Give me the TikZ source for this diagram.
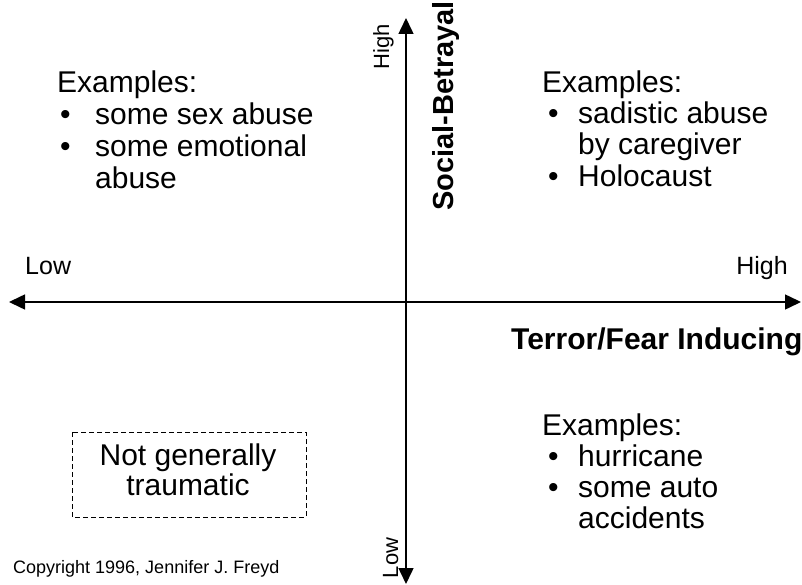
\documentclass[tikz,border=0pt]{standalone}
\usepackage{fontspec}
\setmainfont{Liberation Sans}
\usetikzlibrary{arrows.meta}
\begin{document}
\begin{tikzpicture}[x=1pt,y=-1pt,
  txt/.style={inner sep=0pt,anchor=base west,font=\fontsize{30}{32}\selectfont},
  bul/.style={inner sep=0pt,anchor=base west,font=\fontsize{30}{32}\selectfont},
  axlbl/.style={inner sep=0pt,font=\fontsize{25}{28}\selectfont},
  rotlbl/.style={inner sep=0pt,anchor=base,rotate=90,font=\fontsize{22}{24}\selectfont},
  axis/.style={line width=1.5pt,-{Triangle[length=16pt,width=15pt]}},
  dbox/.style={draw,dash pattern=on 5pt off 3pt,line width=1pt}]
\useasboundingbox (0,0) rectangle (802,585);
% axes
\coordinate (c) at (406,302);
\coordinate (L) at (9,302);
\coordinate (R) at (801,302);
\coordinate (T) at (406,18);
\coordinate (B) at (406,584);
\draw[axis] (c) -- (L);
\draw[axis] (c) -- (R);
\draw[axis] (c) -- (T);
\draw[axis] (c) -- (B);
% axis labels
\node[axlbl,anchor=base west] (lowh) at (25,274) {Low};
\node[axlbl,anchor=base east] (highh) at (788,274) {High};
\node[rotlbl] (highv) at (389,47) {High};
\node[rotlbl] (lowv) at (398,558) {Low};
\node[inner sep=0pt,anchor=base,rotate=90,font=\fontsize{29}{30}\selectfont\bfseries] (sb) at (453,106) {Social-Betrayal};
\node[inner sep=0pt,anchor=base west,font=\fontsize{30}{32}\selectfont\bfseries] (tf) at (511,349) {Terror/Fear Inducing};
% top-left
\node[txt] (e1) at (57,93) {Examples:};
\node[bul] (b11) at (60,125) {\textbullet};
\node[txt] (t11) at (95,125) {some sex abuse};
\node[bul] (b12) at (60,157) {\textbullet};
\node[txt] (t12) at (95,157) {some emotional};
\node[txt] (t13) at (95,189) {abuse};
% top-right
\node[txt] (e2) at (542,93) {Examples:};
\node[bul] (b21) at (548,124) {\textbullet};
\node[txt] (t21) at (578,124) {sadistic abuse};
\node[txt] (t22) at (578,155) {by caregiver};
\node[bul] (b22) at (548,187) {\textbullet};
\node[txt] (t23) at (578,187) {Holocaust};
% bottom-right
\node[txt] (e3) at (542,435) {Examples:};
\node[bul] (b31) at (548,466) {\textbullet};
\node[txt] (t31) at (578,466) {hurricane};
\node[bul] (b32) at (548,497) {\textbullet};
\node[txt] (t32) at (578,497) {some auto};
\node[txt] (t33) at (578,528) {accidents};
% dashed box
\draw[dbox] (72,432) rectangle (306,517);
\node[inner sep=0pt,anchor=base,font=\fontsize{30}{32}\selectfont] (n1) at (188,465) {Not generally};
\node[inner sep=0pt,anchor=base,font=\fontsize{30}{32}\selectfont] (n2) at (188,495) {traumatic};
% copyright
\node[inner sep=0pt,anchor=base west,font=\fontsize{18}{20}\selectfont] (cp) at (13,573) {Copyright 1996, Jennifer J. Freyd};
\end{tikzpicture}
\end{document}
